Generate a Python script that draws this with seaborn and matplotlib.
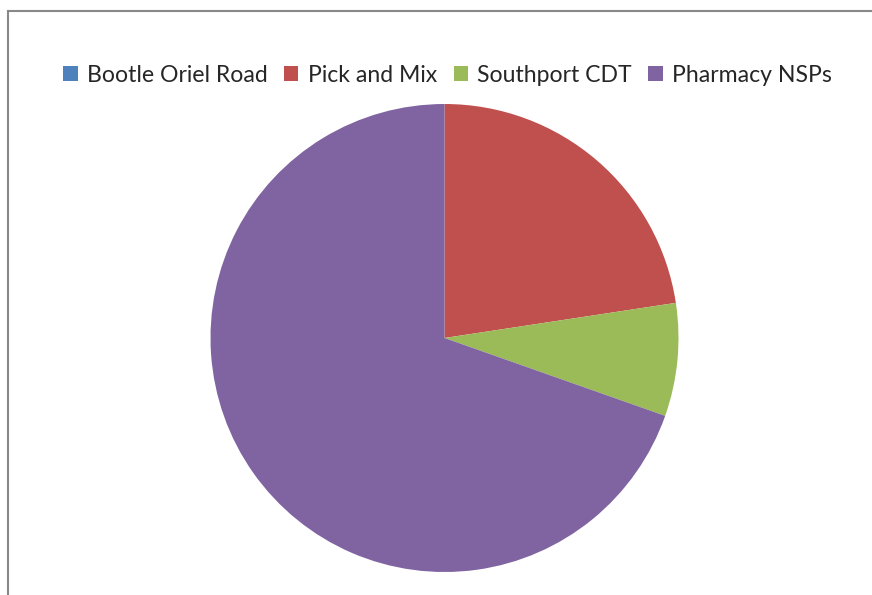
import matplotlib
matplotlib.use("Agg")
import matplotlib.pyplot as plt
import matplotlib.patches as mpatches
import seaborn as sns

labels = ["Bootle Oriel Road", "Pick and Mix", "Southport CDT", "Pharmacy NSPs"]
values = [0.0, 22.6, 7.8, 69.6]
colors = ["#4F81BD", "#C0504D", "#9BBB59", "#8064A2"]

sns.set_theme(style="white")
plt.rcParams["font.family"] = ["Lato", "DejaVu Sans"]

W, H = 872, 595
fig = plt.figure(figsize=(W / 100, H / 100), dpi=100)
fig.patch.set_facecolor("white")

# pie: center (444.5, 338), radius 234 px
cx, cy, r = 444.5, 338, 234
ax = fig.add_axes([(cx - r) / W, (H - cy - r) / H, 2 * r / W, 2 * r / H])
ax.pie(values, colors=colors, startangle=90, counterclock=False, radius=1,
       wedgeprops=dict(linewidth=0))
ax.set_xlim(-1, 1)
ax.set_ylim(-1, 1)
ax.set_aspect("equal")
ax.axis("off")

# chart area border (only top and left visible)
fig.add_artist(mpatches.Rectangle((8 / W, -0.05), 1.1, (H - 10.5) / H + 0.05,
                                  transform=fig.transFigure, fill=False,
                                  edgecolor="#888888", linewidth=1.5))

handles = [mpatches.Patch(facecolor=c, edgecolor="none") for c in colors]
fig.legend(handles, labels, loc="center", bbox_to_anchor=(447.5 / W, 520 / H),
           ncol=4, frameon=False, fontsize=16.6, handlelength=0.62,
           handleheight=0.62, handletextpad=0.4, columnspacing=0.72,
           borderaxespad=0, borderpad=0)

fig.savefig("out.png", dpi=100, facecolor="white")
